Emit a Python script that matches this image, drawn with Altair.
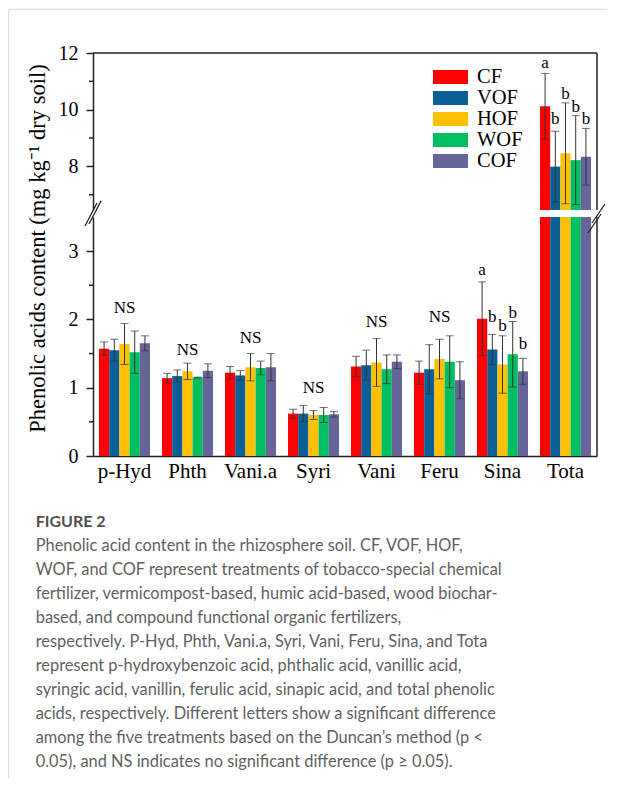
import altair as alt
import pandas as pd

# ---------------- data ----------------
categories = ["p-Hyd", "Phth", "Vani.a", "Syri", "Vani", "Feru", "Sina", "Tota"]
treatments = ["CF", "VOF", "HOF", "WOF", "COF"]
colors = ["#FF0000", "#0A5F96", "#FFC000", "#00BF63", "#656599"]

mean_CF = [1.57, 1.14, 1.22, 0.62, 1.31, 1.22, 2.01, 10.12]
mean_VOF = [1.55, 1.17, 1.18, 0.62, 1.33, 1.27, 1.56, 7.99]
mean_HOF = [1.64, 1.24, 1.30, 0.60, 1.37, 1.42, 1.34, 8.46]
mean_WOF = [1.52, 1.15, 1.29, 0.60, 1.27, 1.38, 1.49, 8.22]
mean_COF = [1.65, 1.25, 1.30, 0.61, 1.38, 1.11, 1.24, 8.34]

sd_CF = [0.10, 0.07, 0.09, 0.065, 0.15, 0.17, 0.54, 1.16]
sd_VOF = [0.16, 0.09, 0.07, 0.12, 0.22, 0.36, 0.22, 1.25]
sd_HOF = [0.30, 0.12, 0.20, 0.065, 0.35, 0.29, 0.42, 1.78]
sd_WOF = [0.31, 0.005, 0.10, 0.11, 0.21, 0.38, 0.48, 1.57]
sd_COF = [0.11, 0.10, 0.20, 0.04, 0.10, 0.27, 0.19, 1.00]

ns_categories = ["p-Hyd", "Phth", "Vani.a", "Syri", "Vani", "Feru"]
ns_y = [2.17, 1.55, 1.73, 0.99, 1.96, 2.04]
sina_letters = ["a", "b", "b", "b", "b"]
sina_letter_y = [2.72, 2.03, 1.91, 2.10, 1.64]
tota_letters = ["a", "b", "b", "b", "b"]
tota_letter_y = [11.65, 9.67, 10.57, 10.10, 9.67]

upper_major = [8, 10, 12]
upper_minor = [7, 9, 11]
lower_major = [0, 1, 2, 3]
lower_minor = [0.5, 1.5, 2.5]
upper_domain = [6.46, 12]
lower_domain = [0, 3.5]

y_title = "Phenolic acids content (mg kg\u207b\u00b9 dry soil)"
fig_label = "FIGURE 2"
caption_lines = [
    "Phenolic acid content in the rhizosphere soil. CF, VOF, HOF,",
    "WOF, and COF represent treatments of tobacco-special chemical",
    "fertilizer, vermicompost-based, humic acid-based, wood biochar-",
    "based, and compound functional organic fertilizers,",
    "respectively. P-Hyd, Phth, Vani.a, Syri, Vani, Feru, Sina, and Tota",
    "represent p-hydroxybenzoic acid, phthalic acid, vanillic acid,",
    "syringic acid, vanillin, ferulic acid, sinapic acid, and total phenolic",
    "acids, respectively. Different letters show a significant difference",
    "among the five treatments based on the Duncan\u2019s method (p <",
    "0.05), and NS indicates no significant difference (p \u2265 0.05).",
]

# ---------------- tables ----------------
rows = []
for t, means, sds in zip(
    treatments,
    [mean_CF, mean_VOF, mean_HOF, mean_WOF, mean_COF],
    [sd_CF, sd_VOF, sd_HOF, sd_WOF, sd_COF],
):
    for c, m, s in zip(categories, means, sds):
        rows.append(dict(category=c, treatment=t, mean=m, lo=m - s, hi=m + s))
df = pd.DataFrame(rows)
df_tota = df[df.category == "Tota"]
df_low_err = df[df.category != "Tota"]

lab_rows = [dict(category=c, treatment="HOF", y=v, text="NS") for c, v in zip(ns_categories, ns_y)]
lab_rows += [dict(category="Sina", treatment=t, y=v, text=s) for t, v, s in zip(treatments, sina_letter_y, sina_letters)]
df_lab_low = pd.DataFrame(lab_rows)
df_lab_up = pd.DataFrame([dict(category="Tota", treatment=t, y=v, text=s)
                          for t, v, s in zip(treatments, tota_letter_y, tota_letters)])
df_minor_up = pd.DataFrame({"v": upper_minor})
df_minor_lo = pd.DataFrame({"v": lower_minor})
dummy = pd.DataFrame({"k": [0]})

# ---------------- style ----------------
SERIF = "Liberation Serif"
W = 504
H_UP = 157
H_LO = 239
AX = "#222222"
EC = "#333333"
BORDER = "#d9d9d9"

xscale = alt.Scale(domain=categories, paddingInner=0.19, paddingOuter=0.095)
xoff = alt.Scale(domain=treatments, paddingInner=0, paddingOuter=0)
cscale = alt.Scale(domain=treatments, range=colors)
ys_up = alt.Scale(domain=upper_domain, nice=False, zero=False, clamp=True)
ys_lo = alt.Scale(domain=lower_domain, nice=False, zero=True, clamp=True)

X_UP = alt.X("category:N", scale=xscale, axis=None, sort=categories)
X_LO = alt.X("category:N", scale=xscale, sort=categories)
XO = alt.XOffset("treatment:N", scale=xoff, sort=treatments)


def yaxis(values, title=None):
    kw = dict(
        values=values, grid=False, domainColor=AX, domainWidth=1.5,
        tickColor=AX, tickWidth=1.5, tickSize=7, labelFont=SERIF,
        labelFontSize=20, labelColor="black", labelPadding=8,
        labelFlush=False, labelOverlap=False, format="d",
    )
    if title is None:
        kw["title"] = None
    else:
        kw.update(title=title, titleFont=SERIF, titleFontSize=22.5,
                  titleFontWeight="normal", titleColor="black",
                  titleAngle=270, titleAlign="center", titleBaseline="middle",
                  titleX=-56, titleY=31)
    return alt.Axis(**kw)


# ---------------- upper panel ----------------
bars_up = alt.Chart(df_tota).mark_bar().encode(
    x=X_UP, xOffset=XO,
    y=alt.Y("mean:Q", scale=ys_up, axis=yaxis(upper_major)),
    y2=alt.datum(upper_domain[0]),
    color=alt.Color("treatment:N", scale=cscale, sort=treatments, legend=alt.Legend(
        orient="none", legendX=340, legendY=14, title=None,
        symbolType="M-1,-0.4H1V0.4H-1Z", symbolSize=1225, symbolStrokeWidth=0,
        symbolOpacity=1, labelFont=SERIF, labelFontSize=20.5, labelColor="black",
        labelOffset=9, clipHeight=20, rowPadding=0, padding=0)),
)
err_up = alt.Chart(df_tota).mark_rule(color=EC, strokeWidth=1).encode(
    x=X_UP, xOffset=XO, y=alt.Y("lo:Q", scale=ys_up), y2="hi:Q")
caps_up = alt.Chart(df_tota).transform_fold(["lo", "hi"], as_=["end", "v"]).mark_tick(
    color=EC, thickness=1, size=8).encode(
    x=X_UP, xOffset=XO, y=alt.Y("v:Q", scale=ys_up))
txt_up = alt.Chart(df_lab_up).mark_text(font=SERIF, fontSize=17, baseline="middle", color="black").encode(
    x=X_UP, xOffset=XO, y=alt.Y("y:Q", scale=ys_up), text="text:N")
minor_up = alt.Chart(df_minor_up).mark_rule(color=AX, strokeWidth=1.5).encode(
    x=alt.value(-4), x2=alt.value(0), y=alt.Y("v:Q", scale=ys_up))
top_frame = alt.Chart(dummy).mark_rule(color=AX, strokeWidth=1.5).encode(
    x=alt.value(0), x2=alt.value(W), y=alt.value(0))
right_up = alt.Chart(dummy).mark_rule(color=AX, strokeWidth=1.5).encode(
    x=alt.value(W), y=alt.value(0), y2=alt.value(H_UP))
page_top = alt.Chart(dummy).mark_rule(color=BORDER, strokeWidth=1).encode(
    x=alt.value(-84.3), x2=alt.value(514), y=alt.value(-43.7))
page_left = alt.Chart(dummy).mark_rule(color=BORDER, strokeWidth=1).encode(
    x=alt.value(-84.3), y=alt.value(-43.7), y2=alt.value(726))

upper = alt.layer(
    bars_up, err_up, caps_up, txt_up, minor_up, top_frame, right_up, page_top, page_left
).properties(width=W, height=H_UP)

# ---------------- lower panel ----------------
bars_lo = alt.Chart(df).mark_bar().encode(
    x=alt.X("category:N", scale=xscale, sort=categories, axis=alt.Axis(
        title=None, ticks=False, domainColor=AX, domainWidth=1.5, labelAngle=0,
        labelFont=SERIF, labelFontSize=21, labelColor="black", labelPadding=4)),
    xOffset=XO,
    y=alt.Y("mean:Q", scale=ys_lo, axis=yaxis(lower_major, y_title)),
    color=alt.Color("treatment:N", scale=cscale, sort=treatments, legend=None),
)
err_lo = alt.Chart(df_low_err).mark_rule(color=EC, strokeWidth=1).encode(
    x=X_LO, xOffset=XO, y=alt.Y("lo:Q", scale=ys_lo), y2="hi:Q")
caps_lo = alt.Chart(df_low_err).transform_fold(["lo", "hi"], as_=["end", "v"]).mark_tick(
    color=EC, thickness=1, size=8).encode(
    x=X_LO, xOffset=XO, y=alt.Y("v:Q", scale=ys_lo))
txt_lo = alt.Chart(df_lab_low).mark_text(font=SERIF, fontSize=17, baseline="middle", color="black").encode(
    x=X_LO, xOffset=XO, y=alt.Y("y:Q", scale=ys_lo), text="text:N")
minor_lo = alt.Chart(df_minor_lo).mark_rule(color=AX, strokeWidth=1.5).encode(
    x=alt.value(-4), x2=alt.value(0), y=alt.Y("v:Q", scale=ys_lo))
right_lo = alt.Chart(dummy).mark_rule(color=AX, strokeWidth=1.5).encode(
    x=alt.value(W), y=alt.value(0), y2=alt.value(H_LO))


def slash(x0, y0, x1, y1):
    return alt.Chart(dummy).mark_rule(color=AX, strokeWidth=1.3).encode(
        x=alt.value(x0), y=alt.value(y0), x2=alt.value(x1), y2=alt.value(y1))


breaks = [
    slash(-8, 9, 4, -14), slash(-4, 7, 8, -16),
    slash(W - 9, 16, W + 4, -3), slash(W - 5, 6, W + 8, -13),
]
fig_txt = alt.Chart(dummy).mark_text(
    font="Lato", fontSize=16, fontWeight="bold", color="#505050", align="left",
    baseline="alphabetic").encode(
    x=alt.value(-57.3), y=alt.value(310), text=alt.value(fig_label))
cap_txt = alt.Chart(dummy).mark_text(
    font="Lato", fontSize=16.4, color="#5f5f5f", align="left", baseline="alphabetic",
    lineHeight=24).encode(
    x=alt.value(-57.3), y=alt.value(334.4), text=alt.value(caption_lines))

lower = alt.layer(
    bars_lo, err_lo, caps_lo, txt_lo, minor_lo, right_lo, *breaks, fig_txt, cap_txt
).properties(width=W, height=H_LO)

chart = alt.vconcat(upper, lower, spacing=7, bounds="flush").resolve_legend(
    color="independent"
).properties(padding=0, background="white").configure_view(stroke=None)

chart.save("out.html", embed_options={"renderer": "svg", "actions": False})
